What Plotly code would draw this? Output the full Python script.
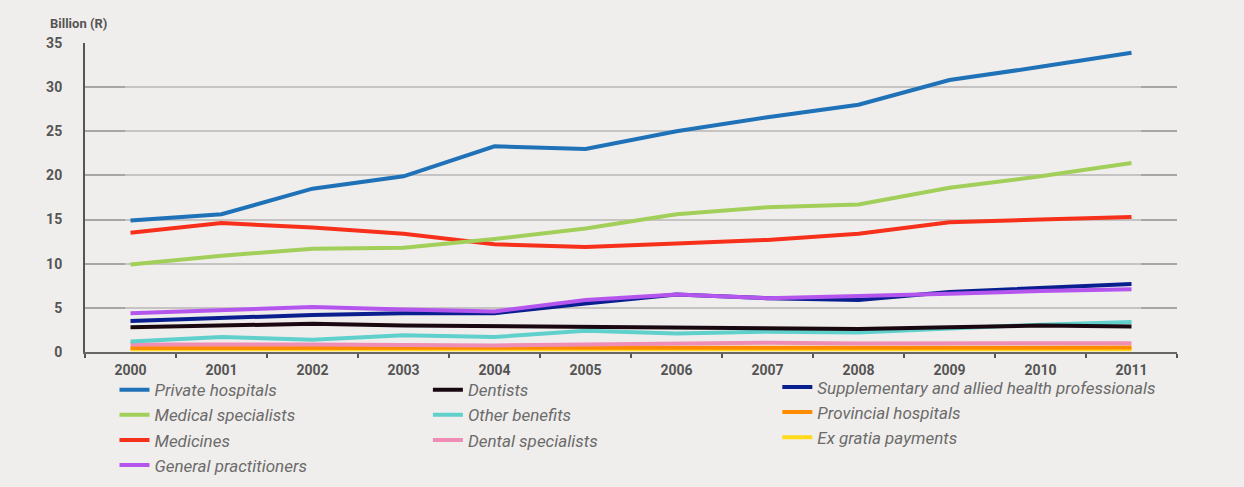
import plotly.graph_objects as go

# Medical scheme benefits paid, billion rand, 2000-2011
years = ["2000", "2001", "2002", "2003", "2004", "2005",
         "2006", "2007", "2008", "2009", "2010", "2011"]

private_hospitals = [14.9, 15.6, 18.5, 19.9, 23.3, 23.0, 25.0, 26.6, 28.0, 30.8, 32.3, 33.9]
medical_specialists = [9.9, 10.9, 11.7, 11.8, 12.8, 14.0, 15.6, 16.4, 16.7, 18.6, 19.9, 21.4]
medicines = [13.5, 14.6, 14.1, 13.4, 12.2, 11.9, 12.3, 12.7, 13.4, 14.7, 15.0, 15.3]
general_practitioners = [4.4, 4.8, 5.1, 4.8, 4.6, 5.9, 6.5, 6.1, 6.3, 6.6, 6.9, 7.1]
dentists = [2.8, 3.0, 3.2, 3.0, 2.9, 2.9, 2.8, 2.6, 2.6, 2.8, 3.0, 2.9]
other_benefits = [1.2, 1.7, 1.4, 1.9, 1.7, 2.4, 2.1, 2.3, 2.2, 2.7, 3.1, 3.4]
dental_specialists = [0.85, 0.9, 0.85, 0.8, 0.75, 0.85, 0.95, 1.05, 0.95, 0.95, 1.0, 1.0]
supplementary = [3.5, 3.9, 4.2, 4.4, 4.4, 5.5, 6.5, 6.1, 5.9, 6.8, 7.3, 7.7]
provincial_hospitals = [0.45, 0.45, 0.45, 0.45, 0.45, 0.5, 0.5, 0.55, 0.5, 0.5, 0.5, 0.5]
ex_gratia = [0.3, 0.3, 0.3, 0.3, 0.3, 0.3, 0.3, 0.3, 0.3, 0.3, 0.3, 0.3]

y_ticks = [0, 5, 10, 15, 20, 25, 30, 35]

# (name, values, colour, legend, rank) in drawing order, bottom to top
series = [
    ("Ex gratia payments", ex_gratia, "#ffd91a", "legend3", 3),
    ("Provincial hospitals", provincial_hospitals, "#ff8c00", "legend3", 2),
    ("Dental specialists", dental_specialists, "#f08db4", "legend2", 3),
    ("Other benefits", other_benefits, "#5fd0cc", "legend2", 2),
    ("Dentists", dentists, "#1a0810", "legend2", 1),
    ("Supplementary and allied health professionals", supplementary, "#0a1f8f", "legend3", 1),
    ("General practitioners", general_practitioners, "#b456ee", "legend", 4),
    ("Medicines", medicines, "#f7301c", "legend", 3),
    ("Medical specialists", medical_specialists, "#a2cf5a", "legend", 2),
    ("Private hospitals", private_hospitals, "#1f72b8", "legend", 1),
]

bg = "#f0eeec"
font_family = "Roboto, Arial, sans-serif"

fig = go.Figure()
for name, vals, color, leg, rank in series:
    fig.add_trace(go.Scatter(
        x=years, y=vals, name=name, mode="lines",
        line=dict(color=color, width=4),
        legend=leg, legendrank=rank,
    ))

legend_font = dict(family=font_family, size=17, color="#6b6b6b", style="italic")
legend_common = dict(
    bgcolor="rgba(0,0,0,0)", font=legend_font, orientation="v",
    xanchor="left", yanchor="top", itemwidth=30, tracegroupgap=0,
)

fig.update_layout(
    width=1244, height=487,
    margin=dict(l=85, r=67, t=43, b=135, autoexpand=False),
    paper_bgcolor=bg, plot_bgcolor=bg,
    font=dict(family=font_family),
    showlegend=True,
    legend=dict(x=0.027, y=-0.0654, **legend_common),
    legend2=dict(x=0.314, y=-0.0654, **legend_common),
    legend3=dict(x=0.634, y=-0.0564, **legend_common),
    xaxis=dict(
        type="category", range=[-0.5, 11.5],
        tickson="boundaries", ticks="outside", ticklen=4, tickwidth=2,
        tickcolor="#555555", ticklabelstandoff=4,
        showline=True, linecolor="#666666", linewidth=2,
        showgrid=False, zeroline=False,
        tickfont=dict(family=font_family, size=14, color="#555555", weight="bold"),
    ),
    yaxis=dict(
        range=[0, 35], tickvals=y_ticks,
        showgrid=True, gridcolor="#c6c4c2", gridwidth=1.5,
        showline=True, linecolor="#555555", linewidth=2,
        zeroline=False, ticks="",
        ticklabelstandoff=18,
        tickfont=dict(family=font_family, size=14, color="#555555", weight="bold"),
    ),
    # short darker tick marks at both ends of the gridlines
    yaxis2=dict(
        overlaying="y", anchor="x", side="left", range=[0, 35],
        tickvals=y_ticks[1:-1], ticks="inside", ticklen=40, tickwidth=2,
        tickcolor="#a8a6a4", showticklabels=False, showgrid=False,
        showline=False, zeroline=False,
    ),
    yaxis3=dict(
        overlaying="y", anchor="x", side="right", range=[0, 35],
        tickvals=y_ticks[1:-1], ticks="inside", ticklen=36, tickwidth=2,
        tickcolor="#a8a6a4", showticklabels=False, showgrid=False,
        showline=False, zeroline=False,
    ),
    annotations=[dict(
        text="Billion (R)", xref="paper", yref="paper",
        x=-0.034, y=1.062, xanchor="left", yanchor="middle", showarrow=False,
        font=dict(family=font_family, size=13, color="#555555", weight="bold"),
    )],
)

# invisible traces so the overlay tick axes are drawn
fig.add_trace(go.Scatter(x=[years[0]], y=[None], yaxis="y2", showlegend=False, hoverinfo="skip"))
fig.add_trace(go.Scatter(x=[years[0]], y=[None], yaxis="y3", showlegend=False, hoverinfo="skip"))

fig.write_html("out.html")
